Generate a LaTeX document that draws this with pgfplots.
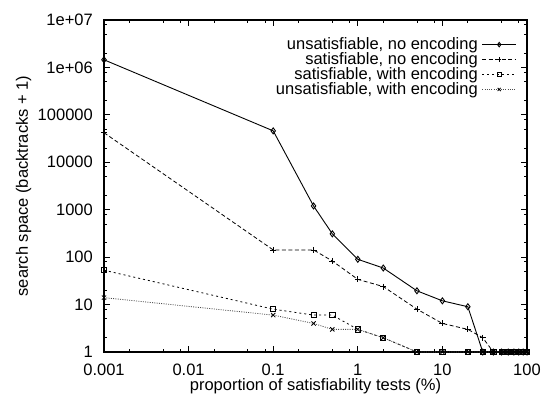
\documentclass[border=0pt]{standalone}
\usepackage{fontspec}
\setmainfont{Liberation Sans}
\usepackage{pgfplots}
\pgfplotsset{compat=1.18}
\begin{document}
\fontsize{16.5bp}{18bp}\selectfont
\begin{tikzpicture}[font=\fontsize{16.5bp}{18bp}\selectfont]
\begin{axis}[
  name=a,
  scale only axis, width=423bp, height=332bp,
  xmode=log, ymode=log,
  xmin=0.001, xmax=100, ymin=1, ymax=1e7,
  tick label style={font=\fontsize{16.5bp}{18bp}\selectfont},
  label style={font=\fontsize{16.5bp}{18bp}\selectfont},
  xtick={0.001,0.01,0.1,1,10,100},
  xticklabels={0.001,0.01,0.1,1,10,100},
  ytick={1,10,100,1000,10000,100000,1000000,10000000},
  yticklabels={1,10,100,1000,10000,100000,1e+06,1e+07},
  minor xtick={0.002,0.005,0.008,0.02,0.05,0.08,0.2,0.5,0.8,2,5,8,20,50,80},
  minor ytick={2,5,8,20,50,80,200,500,800,2000,5000,8000,20000,50000,80000,200000,500000,800000,2000000,5000000,8000000},
  tick align=inside,
  major tick length=6bp, minor tick length=3bp,
  every tick/.style={black, line width=0.8bp},
  axis line style={line width=1.2bp},
  xticklabel style={anchor=base, inner sep=0pt, yshift=-23bp},
  yticklabel style={anchor=east, inner sep=0pt, xshift=-11bp},
  xlabel={proportion of satisfiability tests (\%)},
  ylabel={search space (backtracks + 1)},
  xlabel style={at={(axis description cs:0.5,0)}, anchor=base, inner sep=0pt, yshift=-38bp},
  ylabel style={at={(axis description cs:-0.180,0.5)}, anchor=base, inner sep=0pt},
  clip=false,
  legend style={draw=none, fill=none, at={(0.9756,0.9475)}, anchor=north east,
    inner sep=0pt, outer sep=0pt,
    font=\fontsize{16.5bp}{18bp}\selectfont, row sep=0.5bp,
    nodes={inner xsep=4bp, inner ysep=0bp}},
  legend cell align=right,
  legend plot pos=right,
  legend image code/.code={\draw[mark repeat=2, mark phase=2, mark size=2.2bp] plot coordinates {(0bp,0bp) (17bp,0bp) (34bp,0bp)};},
]
\addplot[black, line width=0.9bp, mark=diamond, mark size=3bp, mark options={solid}] coordinates {
 (0.001,1450000) (0.1,46000) (0.3,1200) (0.5,310) (1,90) (2,59) (5,19.5) (10,12) (20,9)
 (30,1) (40,1) (50,1) (60,1) (70,1) (80,1) (90,1) (100,1)};
\addlegendentry{unsatisfiable, no encoding}
\addplot[black, line width=0.8bp, dash pattern=on 4bp off 2.5bp, mark=+, mark size=3bp, mark options={solid}] coordinates {
 (0.001,42000) (0.1,142) (0.3,142) (0.5,83) (1,34) (2,24) (5,8) (10,4) (20,3)
 (30,2) (40,1) (50,1) (60,1) (70,1) (80,1) (90,1) (100,1)};
\addlegendentry{satisfiable, no encoding}
\addplot[black, line width=0.8bp, dash pattern=on 2bp off 3bp, mark=square, mark size=2.6bp, mark options={solid}] coordinates {
 (0.001,53) (0.1,8) (0.3,6) (0.5,6) (1,3) (2,2) (5,1) (10,1) (20,1)
 (30,1) (40,1) (50,1) (60,1) (70,1) (80,1) (90,1) (100,1)};
\addlegendentry{satisfiable, with encoding}
\addplot[black!70, line width=0.8bp, dash pattern=on 1bp off 1.3bp, mark=x, mark size=3bp, mark options={solid,black}] coordinates {
 (0.001,14) (0.1,6) (0.3,4) (0.5,3) (1,3) (2,2) (5,1) (10,1) (20,1)
 (30,1) (40,1) (50,1) (60,1) (70,1) (80,1) (90,1) (100,1)};
\addlegendentry{unsatisfiable, with encoding}
\end{axis}
\pgfresetboundingbox
\path ([shift={(-104bp,-42bp)}]a.south west) rectangle ([shift={(14bp,20bp)}]a.north east);
\end{tikzpicture}
\end{document}
